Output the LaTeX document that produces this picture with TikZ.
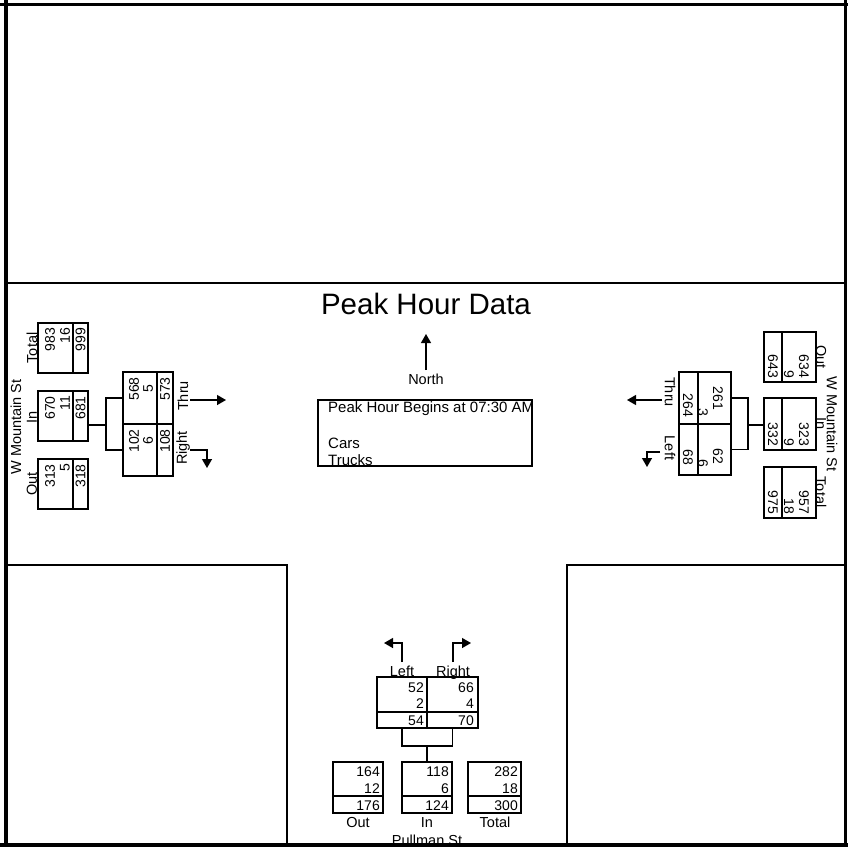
\documentclass[tikz,border=0pt]{standalone}
\usepackage{fontspec}
\setmainfont{Liberation Sans}
\usetikzlibrary{arrows.meta}
\begin{document}
\begin{tikzpicture}[x=1pt,y=-1pt,
  box/.style={draw, line width=1.3pt, inner sep=0pt, minimum width=#1},
  box/.default=50,
  lbl/.style={inner sep=0pt, font=\fontsize{14.5}{16}\selectfont},
  num/.style={inner sep=0pt, font=\fontsize{14}{16}\selectfont, anchor=east},
  lnum/.style={num, rotate=90},
  rnum/.style={num, rotate=-90},
  conn/.style={line width=1.3pt},
  arr/.style={line width=1.3pt, -{Triangle[width=10pt,length=9pt]}},
  frame/.style={line width=1.6pt}
]
\useasboundingbox (0,0) rectangle (848,847);
% outer frame and streets
\draw[line width=4pt] (6,0) -- (6,847);
\draw[line width=3pt] (0,4.5) -- (848,4.5);
\draw[line width=2.5pt] (845.5,0) -- (845.5,847);
\draw[frame] (8,283) -- (845,283);
\draw[frame] (8,565) -- (287,565) -- (287,843);
\draw[frame] (845,565) -- (567,565) -- (567,843);

% title and north
\node[inner sep=0pt, font=\fontsize{29.5}{32}\selectfont] (title) at (426,304) {Peak Hour Data};
\node[lbl, anchor=base] (north) at (426,384) {North};
\coordinate (nbase) at (426,370);
\coordinate (ntip) at (426,334);
\draw[arr] (nbase) -- (ntip);

% info box
\node[box=214, minimum height=66] (info) at (425,433) {};
\node[inner sep=0pt, font=\fontsize{15}{17}\selectfont, anchor=west] (begins) at (328,409) {Peak Hour Begins at 07:30 AM};
\node[inner sep=0pt, font=\fontsize{15}{17}\selectfont, anchor=base west] (cars) at (328,448) {Cars};
\node[inner sep=0pt, font=\fontsize{15}{17}\selectfont, anchor=base west] (trucks) at (328,465) {Trucks};

% ===== West (left) approach =====
\node[lbl, rotate=90] (wst) at (16,427) {W Mountain St};
\node[box, minimum height=50] (ltot) at (63,348) {};
\node[box, minimum height=50] (lin) at (63,416) {};
\node[box, minimum height=50] (lout) at (63,484) {};
\draw[conn] (73,323) -- (73,373);
\draw[conn] (73,391) -- (73,441);
\draw[conn] (73,459) -- (73,509);
\node[lbl, rotate=90] (ltotl) at (32,348) {Total};
\node[lbl, rotate=90] (linl) at (32,417) {In};
\node[lbl, rotate=90] (loutl) at (32,484) {Out};
\node[lnum] (n1) at (50,328) {983}; \node[lnum] (n2) at (65,328) {16}; \node[lnum] (n3) at (80.5,328) {999};
\node[lnum] (n4) at (50,396) {670}; \node[lnum] (n5) at (65,396) {11}; \node[lnum] (n6) at (80.5,396) {681};
\node[lnum] (n7) at (50,464) {313}; \node[lnum] (n8) at (65,464) {5}; \node[lnum] (n9) at (80.5,464) {318};

\node[box, minimum height=52] (lthru) at (148,398) {};
\node[box, minimum height=52] (lright) at (148,450) {};
\draw[conn] (157,372) -- (157,476);
\node[lnum] (m1) at (134,377) {568}; \node[lnum, anchor=west] (m2) at (148,393) {5}; \node[lnum] (m3) at (165,377) {573};
\node[lnum] (m4) at (134,429) {102}; \node[lnum, anchor=west] (m5) at (148,445) {6}; \node[lnum] (m6) at (165,429) {108};
\coordinate (ljn) at (106,425);
\draw[conn] (lin.east |- ljn) -- (ljn);
\draw[conn] (lthru.west) -| (ljn) |- (lright.west);
\node[lbl, rotate=90] (lthrul) at (183,396) {Thru};
\node[lbl, rotate=90] (lrightl) at (183,448) {Right};
\coordinate (la1) at (190,400); \coordinate (la2) at (226,400);
\draw[arr] (la1) -- (la2);
\coordinate (lb1) at (190,450); \coordinate (lb2) at (207,468);
\draw[arr] (lb1) -| (lb2);

% ===== East (right) approach =====
\node[lbl, rotate=-90] (est) at (832,424) {W Mountain St};
\node[box=52, minimum height=50] (rout) at (790,357) {};
\node[box=52, minimum height=52] (rin) at (790,424) {};
\node[box=52, minimum height=51] (rtot) at (790,492.5) {};
\draw[conn] (782,332) -- (782,382);
\draw[conn] (782,398) -- (782,450);
\draw[conn] (782,467) -- (782,518);
\node[lbl, rotate=-90] (routl) at (821,357) {Out};
\node[lbl, rotate=-90] (rinl) at (821,424) {In};
\node[lbl, rotate=-90] (rtotl) at (821,492) {Total};
\node[rnum] (e1) at (804,378) {634}; \node[rnum] (e2) at (789,378) {9}; \node[rnum] (e3) at (773,378) {643};
\node[rnum] (e4) at (804,446) {323}; \node[rnum] (e5) at (789,446) {9}; \node[rnum] (e6) at (773,446) {332};
\node[rnum] (e7) at (804,514) {957}; \node[rnum] (e8) at (789,514) {18}; \node[rnum] (e9) at (773,514) {975};

\node[box=52, minimum height=52] (rthru) at (705,398) {};
\node[box=52, minimum height=51] (rleft) at (705,449.5) {};
\draw[conn] (698,372) -- (698,475);
\node[rnum] (f1) at (718,410) {261}; \node[rnum] (f2) at (703,416) {3}; \node[rnum] (f3) at (688,417) {264};
\node[rnum] (f4) at (718,464) {62}; \node[rnum] (f5) at (703,467) {6}; \node[rnum] (f6) at (688,465) {68};
\coordinate (rjn) at (748,425);
\draw[conn] (rin.west |- rjn) -- (rjn);
\draw[conn] (rthru.east) -| (rjn) |- (rleft.east);
\node[lbl, rotate=-90] (rthrul) at (670,392) {Thru};
\node[lbl, rotate=-90] (rleftl) at (670,448) {Left};
\coordinate (ra1) at (662,400); \coordinate (ra2) at (627,400);
\draw[arr] (ra1) -- (ra2);
\coordinate (rb1) at (660,452); \coordinate (rb2) at (647,467);
\draw[arr] (rb1) -| (rb2);

% ===== South approach =====
\node[box, minimum height=51] (bl) at (402,702.5) {};
\node[box=51, minimum height=51] (br) at (452.5,702.5) {};
\draw[conn] (377,712) -- (478,712);
\node[num] (s1) at (424,688) {52}; \node[num] (s2) at (424,704) {2}; \node[num] (s3) at (424,721) {54};
\node[num] (s4) at (474,688) {66}; \node[num] (s5) at (474,704) {4}; \node[num] (s6) at (474,721) {70};
\node[lbl, anchor=base] (bleftl) at (402,676) {Left};
\node[lbl, anchor=base] (brightl) at (453,676) {Right};
\coordinate (ba1) at (402,662); \coordinate (ba2) at (384,643);
\draw[arr] (ba1) |- (ba2);
\coordinate (bb1) at (453,662); \coordinate (bb2) at (471,643);
\draw[arr] (bb1) |- (bb2);

\node[box, minimum height=51] (bout) at (358,787.5) {};
\node[box, minimum height=51] (bin) at (427,787.5) {};
\node[box=53, minimum height=51] (btot) at (494.5,787.5) {};
\draw[conn] (333,796) -- (383,796);
\draw[conn] (402,796) -- (452,796);
\draw[conn] (468,796) -- (521,796);
\coordinate (bjn) at (427,746);
\draw[conn] (bl.south) |- (bjn) -| (br.south);
\draw[conn] (bjn) -- (bin.north);
\node[num] (t1) at (380,772) {164}; \node[num] (t2) at (380,789) {12}; \node[num] (t3) at (380,806) {176};
\node[num] (t4) at (449,772) {118}; \node[num] (t5) at (449,789) {6}; \node[num] (t6) at (449,806) {124};
\node[num] (t7) at (518,772) {282}; \node[num] (t8) at (518,789) {18}; \node[num] (t9) at (518,806) {300};
\node[lbl, anchor=base] (boutl) at (358,827) {Out};
\node[lbl, anchor=base] (binl) at (427,827) {In};
\node[lbl, anchor=base] (btotl) at (495,827) {Total};
\node[lbl, anchor=base] (pull) at (427,845) {Pullman St};

\fill[white] (0,843) rectangle (848,847);
\draw[line width=4pt] (0,845) -- (848,845);
\end{tikzpicture}
\end{document}
